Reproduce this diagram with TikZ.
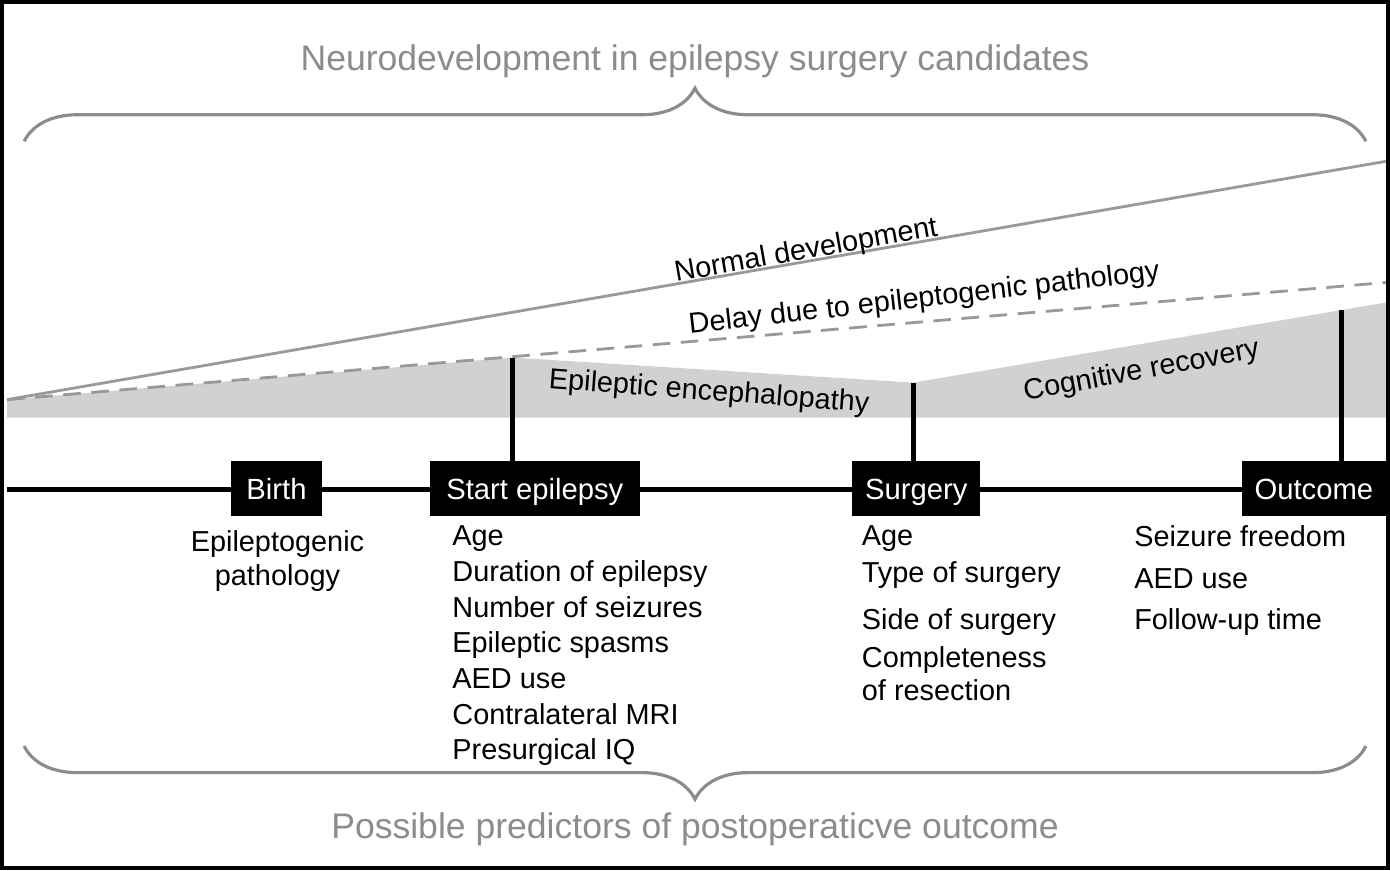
\documentclass[tikz,border=0pt]{standalone}
\usepackage{fontspec}
\setmainfont{Liberation Sans}
\usetikzlibrary{decorations.pathreplacing,positioning}
\begin{document}
\begin{tikzpicture}[x=0.01cm,y=-0.01cm,>=latex]
	\tikzstyle{tbox} = [fill=black, text=white, inner sep=0pt, minimum height=0.55cm, text height=1.65ex, text depth=0.45ex, font=\fontsize{8.3pt}{9pt}\selectfont]
	\tikzstyle{lbl} = [font=\fontsize{8.2pt}{9.6pt}\selectfont, inner sep=0pt]
	\tikzstyle{list} = [lbl, anchor=west, text height=1.65ex, text depth=0.45ex]
	\tikzstyle{gtitle} = [text=black!45, font=\fontsize{10.1pt}{11pt}\selectfont, inner sep=0pt]
	\tikzstyle{brc} = [draw=black!45, line width=0.9pt, decorate, decoration={brace, amplitude=0.53cm}]
	\tikzstyle{tick} = [line width=1.4pt]
	
	% frame
	\draw [line width=1.2pt] (3,3) rectangle (1387,868);
	
	% titles and braces
	\node [gtitle] (top) at (695,62) {Neurodevelopment in epilepsy surgery candidates};
	\node [gtitle] (bottom) at (695,829) {Possible predictors of postoperaticve outcome};
	\draw [brc] (25,142) -- (1365,142);
	\draw [brc] (1365,746) -- (25,746);
	
	% development curves
	\fill [black!18] (8,400) -- (513,358) -- (913,383) -- (1385,303) -- (1385,418) -- (8,418) -- cycle;
	\draw [black!40, line width=0.8pt] (8,400) -- (1385,162);
	\draw [black!40, line width=0.8pt, dashed, dash pattern=on 5pt off 3pt] (8,400) -- (1385,283);
	\node [lbl, rotate=10] (norm) at (806,252) {Normal development};
	\node [lbl, rotate=6.5] (delay) at (924,300) {Delay due to epileptogenic pathology};
	\node [lbl, rotate=-4.3] (ence) at (709,393) {Epileptic encephalopathy};
	\node [lbl, rotate=10.5] (recov) at (1141,372) {Cognitive recovery};
	
	% timeline
	\draw [line width=1.4pt] (8,490) -- (1385,490);
	\node [tbox, minimum width=0.91cm] (birth) at (277,489) {Birth};
	\node [tbox, minimum width=2.1cm] (start) at (535,489) {Start epilepsy};
	\node [tbox, minimum width=1.28cm] (surg) at (916,489) {Surgery};
	\node [tbox, minimum width=1.44cm] (outc) at (1313,489) {Outcome};
	\draw [tick] (513,358) -- (513,462);
	\draw [tick] (913,383) -- (913,462);
	\draw [tick] (1341,310) -- (1341,462);
	
	% predictors
	\node [lbl, align=center] (patho) at (278,561) {Epileptogenic\\pathology};
	\foreach \t [count=\i from 0] in {Age, Duration of epilepsy, Number of seizures, Epileptic spasms, AED use, Contralateral MRI, Presurgical IQ}
		\node [list] (s\i) at (452,535+35.6*\i) {\t};
	\node [list] (g1) at (861,535) {Age};
	\node [list] (g2) at (861,571) {Type of surgery};
	\node [list] (g3) at (861,618) {Side of surgery};
	\node [list] (g4) at (861,656) {Completeness};
	\node [list] (g5) at (861,689) {of resection};
	\node [list] (o1) at (1133,536) {Seizure freedom};
	\node [list] (o2) at (1133,577) {AED use};
	\node [list] (o3) at (1133,618) {Follow-up time};
\end{tikzpicture}
\end{document}
